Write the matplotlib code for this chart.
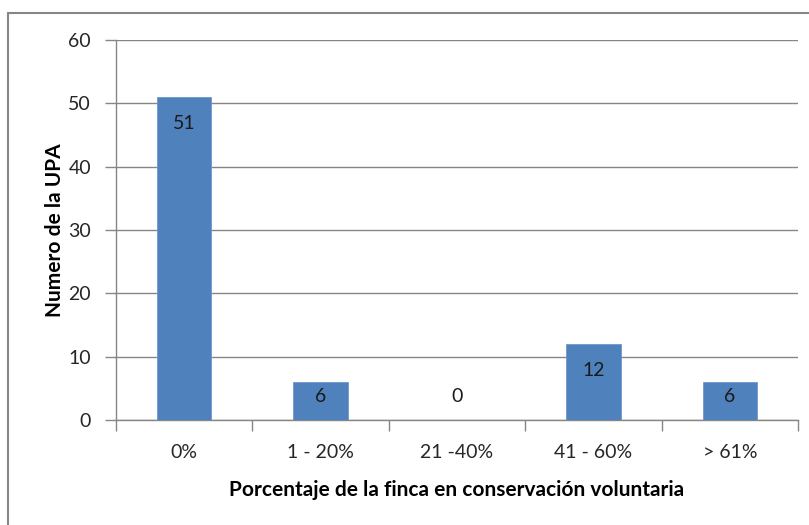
import matplotlib
matplotlib.use('Agg')
import matplotlib.pyplot as plt
from matplotlib.patches import Rectangle

categories = ['0%', '1 - 20%', '21 -40%', '41 - 60%', '> 61%']
counts = [51, 6, 0, 12, 6]

plt.rcParams['font.family'] = ['Lato', 'DejaVu Sans']

fig = plt.figure(figsize=(8.09, 5.25), dpi=100)
ax = fig.add_axes([116 / 809, 1 - 420 / 525, (798 - 116) / 809, 380 / 525])

x = range(len(categories))
ax.bar(x, counts, width=0.4, color='#4F81BD', edgecolor='#6E97CB', linewidth=0.6, zorder=3)

ax.set_ylim(0, 60)
ax.set_xlim(-0.5, len(categories) - 0.5)
ax.set_yticks(range(0, 61, 10))
ax.set_xticks([i - 0.5 for i in range(len(categories) + 1)], minor=False)
ax.set_xticklabels([])
ax.set_xticks(list(x), minor=True)
ax.set_xticklabels(categories, minor=True)
ax.tick_params(axis='x', which='minor', length=0, pad=17, labelsize=14, colors='#262626')
ax.tick_params(axis='x', which='major', length=8, color='#868686', width=1)
ax.tick_params(axis='y', length=8, color='#868686', width=1, pad=10, labelsize=14, labelcolor='#262626')

ax.grid(axis='y', color='#868686', linewidth=1, zorder=0)
for side in ['top', 'right']:
    ax.spines[side].set_visible(False)
for side in ['left', 'bottom']:
    ax.spines[side].set_color('#868686')
    ax.spines[side].set_linewidth(1)

# data labels, Excel "inside end" style
px_per_unit = 380 / 60
for i, v in enumerate(counts):
    ypos = max(v - 26 / px_per_unit, 23 / px_per_unit)
    ax.text(i, ypos, str(v), ha='center', va='center', fontsize=14, color='#1a1a1a', zorder=4)

ax.set_xlabel('Porcentaje de la finca en conservación voluntaria', fontsize=15,
              fontweight='bold', va='center')
ax.set_ylabel('Numero de la UPA', fontsize=15, fontweight='bold', va='center')
ax.xaxis.set_label_coords(0.5, -70 / 380)
ax.yaxis.set_label_coords(-61 / 682, 0.5)

fig.patches.append(Rectangle((8 / 809, -0.1), 1.2, 1 - 13 / 525 + 0.1, transform=fig.transFigure,
                             fill=False, edgecolor='#868686', linewidth=1.5, clip_on=False))

fig.savefig('out.png', dpi=100)
